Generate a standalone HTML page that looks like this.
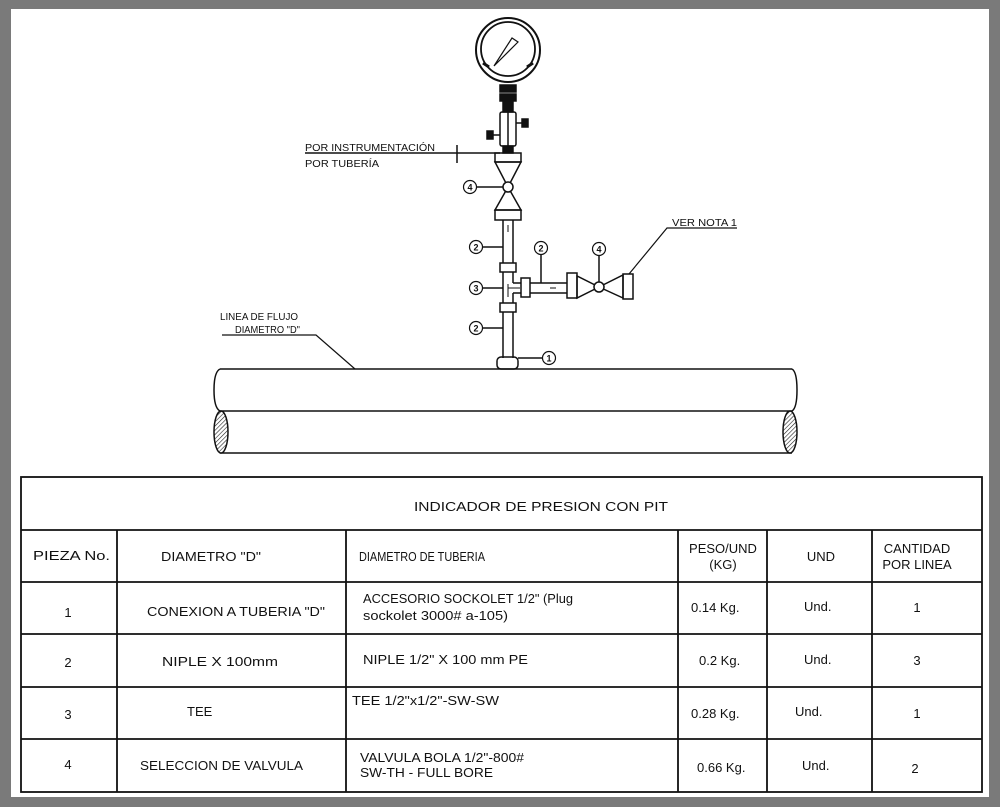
<!DOCTYPE html>
<html><head><meta charset="utf-8"><style>
html,body{margin:0;padding:0;background:#7a7a7a}
svg{display:block}
text{font-family:"Liberation Sans",sans-serif;fill:#111}
</style></head><body>
<svg width="1000" height="807" viewBox="0 0 1000 807" xmlns="http://www.w3.org/2000/svg">
<defs>
<pattern id="h" width="3" height="3" patternUnits="userSpaceOnUse" patternTransform="rotate(45)">
<rect width="3" height="3" fill="#fff"/><line x1="0" y1="0" x2="0" y2="3" stroke="#222" stroke-width="1.2"/></pattern>
</defs>
<rect x="0" y="0" width="1000" height="807" fill="#7a7a7a"/>
<rect x="11" y="9" width="978" height="788" fill="#fff"/>
<g stroke="#111" fill="none" stroke-width="1.5">
<line x1="220" y1="369" x2="792" y2="369"/>
<line x1="220" y1="411" x2="792" y2="411"/>
<line x1="220" y1="453" x2="792" y2="453"/>
<path d="M220 369 Q214 372 214 390 Q214 408 220 411"/>
<path d="M792 369 Q797 372 797 390 Q797 408 792 411"/>
<ellipse cx="221" cy="432" rx="7" ry="21" fill="url(#h)"/>
<ellipse cx="790" cy="432" rx="7" ry="21" fill="url(#h)"/>
<circle cx="508" cy="50" r="32" stroke-width="2"/>
<circle cx="508" cy="49" r="27" stroke-width="1.8"/>
<path d="M483 63 L489 67 M533 63 L527 67" stroke-width="3"/>
<path d="M494 66 L512 38 L518 42 Z" stroke-width="1.2"/>
<rect x="500" y="85" width="16" height="7" fill="#111"/>
<rect x="500" y="94" width="16" height="7" fill="#111"/>
<rect x="503" y="101" width="10" height="11" fill="#111"/>
<rect x="500" y="112" width="16" height="34" rx="2"/>
<line x1="508" y1="112" x2="508" y2="146"/>
<rect x="487" y="131" width="6" height="8" fill="#111"/>
<line x1="493" y1="135" x2="500" y2="135"/>
<rect x="522" y="119" width="6" height="8" fill="#111"/>
<line x1="516" y1="123" x2="522" y2="123"/>
<rect x="503" y="146" width="10" height="7" fill="#111"/>
<line x1="305" y1="153" x2="500" y2="153"/>
<line x1="457" y1="145" x2="457" y2="163"/>
<rect x="495" y="153" width="26" height="9"/>
<path d="M495 162 L521 162 L508 187 Z"/>
<path d="M508 187 L521 210 L495 210 Z"/>
<circle cx="508" cy="187" r="5" fill="#fff"/>
<rect x="495" y="210" width="26" height="10"/>
<line x1="503" y1="220" x2="503" y2="358"/>
<line x1="513" y1="220" x2="513" y2="283"/>
<line x1="513" y1="293" x2="513" y2="358"/>
<line x1="508" y1="225" x2="508" y2="232" stroke-width="1"/>
<line x1="508" y1="284" x2="508" y2="297" stroke-width="1"/>
<rect x="500" y="263" width="16" height="9" fill="#fff"/>
<rect x="500" y="303" width="16" height="9" fill="#fff"/>
<line x1="513" y1="283" x2="567" y2="283"/>
<line x1="513" y1="293" x2="567" y2="293"/>
<line x1="508" y1="288" x2="520" y2="288" stroke-width="1"/>
<line x1="550" y1="288" x2="556" y2="288" stroke-width="1"/>
<rect x="521" y="278" width="9" height="19" fill="#fff"/>
<rect x="567" y="273" width="10" height="25"/>
<path d="M577 276 L577 298 L599 287 Z"/>
<path d="M599 287 L623 275 L623 298 Z"/>
<circle cx="599" cy="287" r="5" fill="#fff"/>
<rect x="623" y="274" width="10" height="25"/>
<rect x="497" y="357" width="21" height="12" rx="4"/>
<circle cx="470" cy="187" r="6.5" stroke-width="1.2"/><line x1="477" y1="187" x2="503" y2="187"/>
<circle cx="476" cy="247" r="6.5" stroke-width="1.2"/><line x1="483" y1="247" x2="503" y2="247"/>
<circle cx="476" cy="288" r="6.5" stroke-width="1.2"/><line x1="483" y1="288" x2="503" y2="288"/>
<circle cx="476" cy="328" r="6.5" stroke-width="1.2"/><line x1="483" y1="328" x2="503" y2="328"/>
<circle cx="549" cy="358" r="6.5" stroke-width="1.2"/><line x1="518" y1="358" x2="542" y2="358"/>
<circle cx="541" cy="248" r="6.5" stroke-width="1.2"/><line x1="541" y1="255" x2="541" y2="283"/>
<circle cx="599" cy="249" r="6.5" stroke-width="1.2"/><line x1="599" y1="256" x2="599" y2="282"/>
<path d="M737 228 L667 228 L629 274" stroke-width="1.2"/>
<path d="M222 335 L316 335 L355 369" stroke-width="1.2"/>
</g>
<g font-size="10">
<text x="470" y="190.5" text-anchor="middle" font-size="9" font-weight="bold">4</text>
<text x="476" y="250.5" text-anchor="middle" font-size="9" font-weight="bold">2</text>
<text x="476" y="291.5" text-anchor="middle" font-size="9" font-weight="bold">3</text>
<text x="476" y="331.5" text-anchor="middle" font-size="9" font-weight="bold">2</text>
<text x="549" y="361.5" text-anchor="middle" font-size="9" font-weight="bold">1</text>
<text x="541" y="251.5" text-anchor="middle" font-size="9" font-weight="bold">2</text>
<text x="599" y="252.5" text-anchor="middle" font-size="9" font-weight="bold">4</text>
<text x="305" y="151" textLength="130" lengthAdjust="spacingAndGlyphs">POR INSTRUMENTACIÓN</text>
<text x="305" y="167" textLength="74" lengthAdjust="spacingAndGlyphs">POR TUBERÍA</text>
<text x="672" y="226" textLength="65" lengthAdjust="spacingAndGlyphs">VER NOTA 1</text>
<text x="220" y="320" textLength="78" lengthAdjust="spacingAndGlyphs">LINEA DE FLUJO</text>
<text x="235" y="333" textLength="65" lengthAdjust="spacingAndGlyphs">DIAMETRO "D"</text>
</g>
<g stroke="#111" stroke-width="1.8" fill="none">
<rect x="21" y="477" width="961" height="315"/>
<line x1="21" y1="530" x2="982" y2="530"/>
<line x1="21" y1="582" x2="982" y2="582"/>
<line x1="21" y1="634" x2="982" y2="634"/>
<line x1="21" y1="687" x2="982" y2="687"/>
<line x1="21" y1="739" x2="982" y2="739"/>
<line x1="117" y1="530" x2="117" y2="792"/>
<line x1="346" y1="530" x2="346" y2="792"/>
<line x1="678" y1="530" x2="678" y2="792"/>
<line x1="767" y1="530" x2="767" y2="792"/>
<line x1="872" y1="530" x2="872" y2="792"/>
</g>
<g font-size="13">
<text x="541" y="511" text-anchor="middle" textLength="254" lengthAdjust="spacingAndGlyphs">INDICADOR DE PRESION CON PIT</text>
<text x="33" y="560" textLength="77" lengthAdjust="spacingAndGlyphs">PIEZA No.</text>
<text x="161" y="561" textLength="100" lengthAdjust="spacingAndGlyphs">DIAMETRO "D"</text>
<text x="359" y="561" textLength="126" lengthAdjust="spacingAndGlyphs">DIAMETRO DE TUBERIA</text>
<text x="723" y="553" text-anchor="middle">PESO/UND</text>
<text x="723" y="569" text-anchor="middle">(KG)</text>
<text x="821" y="561" text-anchor="middle">UND</text>
<text x="917" y="553" text-anchor="middle">CANTIDAD</text>
<text x="917" y="569" text-anchor="middle">POR LINEA</text>
<text x="68" y="617" text-anchor="middle">1</text>
<text x="147" y="616" textLength="178" lengthAdjust="spacingAndGlyphs">CONEXION A TUBERIA "D"</text>
<text x="363" y="603" textLength="210" lengthAdjust="spacingAndGlyphs">ACCESORIO SOCKOLET 1/2" (Plug</text>
<text x="363" y="620" textLength="145" lengthAdjust="spacingAndGlyphs">sockolet 3000# a-105)</text>
<text x="691" y="612">0.14 Kg.</text>
<text x="804" y="611">Und.</text>
<text x="917" y="612" text-anchor="middle">1</text>
<text x="68" y="667" text-anchor="middle">2</text>
<text x="162" y="666" textLength="116" lengthAdjust="spacingAndGlyphs">NIPLE X 100mm</text>
<text x="363" y="664" textLength="165" lengthAdjust="spacingAndGlyphs">NIPLE 1/2" X 100 mm PE</text>
<text x="699" y="665">0.2 Kg.</text>
<text x="804" y="664">Und.</text>
<text x="917" y="665" text-anchor="middle">3</text>
<text x="68" y="719" text-anchor="middle">3</text>
<text x="187" y="716">TEE</text>
<text x="352" y="705" textLength="147" lengthAdjust="spacingAndGlyphs">TEE 1/2"x1/2"-SW-SW</text>
<text x="691" y="718">0.28 Kg.</text>
<text x="795" y="716">Und.</text>
<text x="917" y="718" text-anchor="middle">1</text>
<text x="68" y="769" text-anchor="middle">4</text>
<text x="140" y="770" textLength="163" lengthAdjust="spacingAndGlyphs">SELECCION DE VALVULA</text>
<text x="360" y="762" textLength="164" lengthAdjust="spacingAndGlyphs">VALVULA BOLA 1/2"-800#</text>
<text x="360" y="777" textLength="133" lengthAdjust="spacingAndGlyphs">SW-TH - FULL BORE</text>
<text x="697" y="772">0.66 Kg.</text>
<text x="802" y="770">Und.</text>
<text x="915" y="773" text-anchor="middle">2</text>
</g>
</svg>
</body></html>
